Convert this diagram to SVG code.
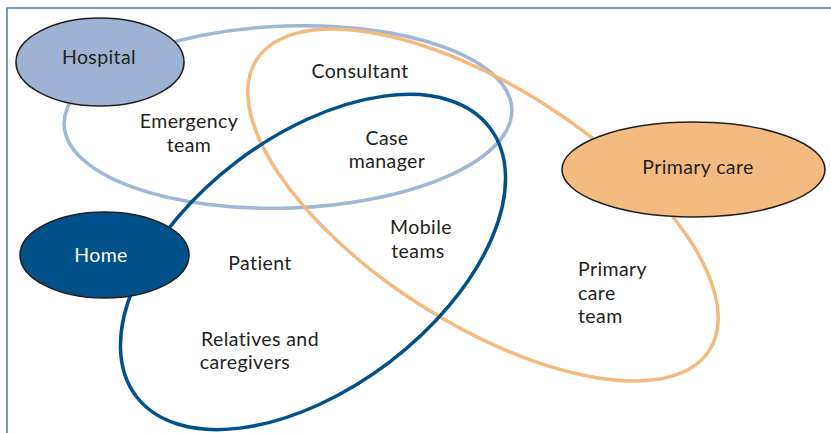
<svg xmlns="http://www.w3.org/2000/svg" width="831" height="433" viewBox="0 0 831 433">
<style>
.loop{fill:none;stroke-width:3.5}
.node{stroke:#231f20;stroke-width:1.6}
text{font-family:Lato,"Open Sans","Liberation Sans",sans-serif;font-size:19.5px;letter-spacing:0.4px;fill:#231f20;text-anchor:middle}
.l{text-anchor:start}
</style>
<rect width="831" height="433" fill="#fff"/>
<path d="M7 433 V8 H831" fill="none" stroke="#4a78a6" stroke-width="1.5"/>
<g id="connectors">
<ellipse class="loop" cx="288" cy="117" rx="224" ry="91" transform="rotate(-2 288 117)" stroke="#9fb6d6"/>
<ellipse class="loop" cx="483" cy="205" rx="269" ry="118" transform="rotate(32.7 483 205)" stroke="#f4b97e"/>
<ellipse class="loop" cx="313" cy="262" rx="222" ry="126" transform="rotate(-37.2 313 262)" stroke="#00508c"/>
</g>
<g id="hospital"><ellipse class="node" cx="100" cy="62" rx="84" ry="44" fill="#9db3d4"/><text x="99" y="64">Hospital</text></g>
<g id="home"><ellipse class="node" cx="104.5" cy="255" rx="84.5" ry="43" fill="#00508a"/><text x="101" y="262" style="fill:#fff">Home</text></g>
<g id="primary-care"><ellipse class="node" cx="693.5" cy="169.5" rx="131.5" ry="47.5" fill="#f4bb80"/><text x="698" y="174">Primary care</text></g>
<g id="consultant"><text x="360" y="78">Consultant</text></g>
<g id="emergency-team"><text x="189" y="128">Emergency</text><text x="189" y="151.5">team</text></g>
<g id="case-manager"><text x="387" y="144.5">Case</text><text x="387" y="168">manager</text></g>
<g id="patient"><text x="260" y="270">Patient</text></g>
<g id="mobile-teams"><text x="421" y="234">Mobile</text><text x="418" y="257.5">teams</text></g>
<g id="primary-care-team"><text class="l" x="578" y="276">Primary</text><text class="l" x="578" y="299.5">care</text><text class="l" x="578" y="323">team</text></g>
<g id="relatives"><text x="260" y="345.5">Relatives and</text><text x="245" y="369">caregivers</text></g>
</svg>
